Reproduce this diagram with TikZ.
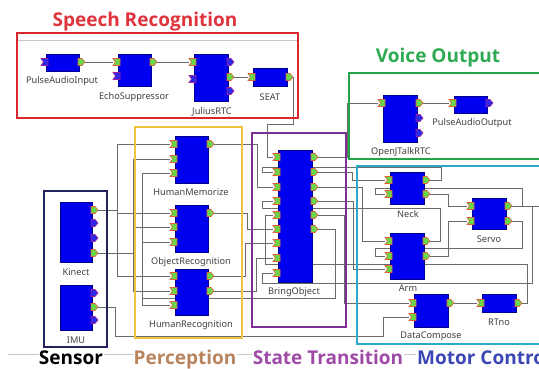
\documentclass[tikz,border=0pt]{standalone}
\usepackage{fontspec}
\setmainfont{Noto Sans}
\newfontfamily\ttlfont{Open Sans}
\pgfdeclarelayer{wires}
\pgfsetlayers{wires,main}

\definecolor{blkblue}{HTML}{0000F0}
\definecolor{portgreen}{HTML}{66D84A}
\definecolor{portedge}{HTML}{E0603A}
\definecolor{offfill}{HTML}{2A2AE8}
\definecolor{offedge}{HTML}{A0209C}
\definecolor{cRed}{HTML}{D8262E}
\definecolor{cGreen}{HTML}{22A54A}
\definecolor{cNavy}{HTML}{22225E}
\definecolor{cYellow}{HTML}{F0C43A}
\definecolor{cPurple}{HTML}{7B2F90}
\definecolor{cCyan}{HTML}{2AAAC6}
\definecolor{tRed}{HTML}{E0343C}
\definecolor{tGreen}{HTML}{2EAA52}
\definecolor{tTan}{HTML}{B8845E}
\definecolor{tPurple}{HTML}{9E4AA6}
\definecolor{tBlue}{HTML}{3A46B4}

\tikzset{
  blk/.style={draw=blue!55!black, fill=blkblue, line width=0.5pt, inner sep=0pt, anchor=north west},
  lbl/.style={font=\fontsize{9.2}{10}\selectfont, text=black!75, inner sep=0pt},
  wire/.style={draw=black!58, line width=0.8pt},
  pon/.style={fill=portgreen, draw=portedge, line width=0.6pt},
  poff/.style={fill=offfill, draw=offedge, line width=0.6pt},
  grp/.style={line width=1.7pt},
  ttl/.style={font=\ttlfont\bfseries\fontsize{19}{22}\selectfont, inner sep=1pt, anchor=base},
  faint/.style={draw=black!22, line width=0.6pt}
}

% component block: name, x, y, width, height
\newcommand\rtc[5]{\node[blk, minimum width=#4pt, minimum height=#5pt] (#1) at (#2,#3) {};}
% input port: [style] name, x of block edge, y
\newcommand\inport[4][pon]{%
  \path[#1] (#3-5,#4-3.5) -- (#3+2,#4-3.5) -- (#3+2,#4+3.5) -- (#3-5,#4+3.5) -- (#3-2.5,#4) -- cycle;
  \coordinate (#2) at (#3-5,#4);}
% output port: [style] name, x of block edge, y
\newcommand\outport[4][pon]{%
  \path[#1] (#3-1,#4-3.5) -- (#3+3,#4-3.5) -- (#3+6,#4) -- (#3+3,#4+3.5) -- (#3-1,#4+3.5) -- cycle;
  \coordinate (#2) at (#3+6,#4);}

\begin{document}
\begin{tikzpicture}[x=1pt,y=-1pt]
\useasboundingbox (0,0) rectangle (539,369);
\clip (0,0) rectangle (539,369);

% window frame lines
\draw[faint] (17,40) -- (298,40);
\draw[faint] (8,354) -- (539,354);

% ---------- Speech recognition ----------
\rtc{pai}{46}{54}{33}{17}
\inport[poff]{pai-i1}{46}{62} \outport{pai-o1}{79}{62}
\node[lbl] at (62,81) {PulseAudioInput};

\rtc{es}{118}{54}{33}{32}
\inport{es-i1}{118}{62} \inport[poff]{es-i2}{118}{76} \outport{es-o1}{151}{62}
\node[lbl] at (134,97) {EchoSuppressor};

\rtc{jr}{194}{54}{34}{47}
\inport{jr-i1}{194}{62} \inport[poff]{jr-i2}{194}{79}
\outport[poff]{jr-o1}{228}{62} \outport{jr-o2}{228}{77} \outport[poff]{jr-o3}{228}{91}
\node[lbl] at (212,112) {JuliusRTC};

\rtc{seat}{253}{68}{34}{18}
\inport{seat-i1}{253}{77} \outport{seat-o1}{287}{77}
\node[lbl] at (270,97) {SEAT};

% ---------- Voice output ----------
\rtc{ojt}{383}{95}{34}{47}
\inport{ojt-i1}{383}{103}
\outport{ojt-o1}{417}{103} \outport[poff]{ojt-o2}{417}{118} \outport[poff]{ojt-o3}{417}{133}
\node[lbl] at (401,152) {OpenJTalkRTC};

\rtc{pao}{454}{96}{33}{17}
\inport{pao-i1}{454}{103} \outport[poff]{pao-o1}{487}{103}
\node[lbl] at (472,123) {PulseAudioOutput};

% ---------- Sensor ----------
\rtc{kin}{60}{202}{32}{60}
\outport{kin-o1}{92}{210} \outport[poff]{kin-o2}{92}{223}
\outport[poff]{kin-o3}{92}{238} \outport{kin-o4}{92}{253}
\node[lbl] at (76,272) {Kinect};

\rtc{imu}{60}{285}{32}{45}
\outport[poff]{imu-o1}{92}{293} \outport{imu-o2}{92}{307} \outport[poff]{imu-o3}{92}{320}
\node[lbl] at (76,340) {IMU};

% ---------- Perception ----------
\rtc{hm}{175}{136}{33}{47}
\inport{hm-i1}{175}{144} \inport{hm-i2}{175}{159} \inport{hm-i3}{175}{173}
\outport{hm-o1}{208}{144}
\node[lbl] at (191,192) {HumanMemorize};

\rtc{or}{175}{205}{33}{47}
\inport{or-i1}{175}{213} \inport{or-i2}{175}{227} \inport{or-i3}{175}{242}
\outport{or-o1}{208}{213}
\node[lbl] at (191,262) {ObjectRecognition};

\rtc{hr}{175}{269}{33}{46}
\inport{hr-i1}{175}{276} \inport{hr-i2}{175}{291} \inport{hr-i3}{175}{305}
\outport{hr-o1}{208}{276} \outport{hr-o2}{208}{291}
\node[lbl] at (191,325) {HumanRecognition};

% ---------- State transition ----------
\rtc{bo}{278}{150}{34}{132}
\foreach \k/\y in {1/157,2/172,3/187,4/201,5/215,6/229,7/243,8/258,9/273}
  {\inport{bo-i\k}{278}{\y}}
\foreach \k/\y in {1/157,2/172,3/187,4/201,5/215,6/229}
  {\outport{bo-o\k}{312}{\y}}
\node[lbl] at (294,292) {BringObject};

% ---------- Motor control ----------
\rtc{neck}{390}{172}{34}{32}
\inport{neck-i1}{390}{180} \inport{neck-i2}{390}{194}
\outport{neck-o1}{424}{180} \outport{neck-o2}{424}{194}
\node[lbl] at (408,214) {Neck};

\rtc{servo}{472}{198}{34}{31}
\inport{servo-i1}{472}{206} \inport{servo-i2}{472}{221}
\outport{servo-o1}{506}{206} \outport{servo-o2}{506}{221}
\node[lbl] at (489,239) {Servo};

\rtc{arm}{390}{233}{34}{46}
\inport{arm-i1}{390}{241} \inport{arm-i2}{390}{256} \inport{arm-i3}{390}{269}
\outport{arm-o1}{424}{241} \outport{arm-o2}{424}{256}
\node[lbl] at (408,288) {Arm};

\rtc{dc}{414}{294}{34}{33}
\inport{dc-i1}{414}{303} \inport{dc-i2}{414}{317}
\outport{dc-o1}{448}{303}
\node[lbl] at (431,336) {DataCompose};

\rtc{rtno}{482}{294}{34}{18}
\inport{rtno-i1}{482}{303} \outport{rtno-o1}{516}{303}
\node[lbl] at (499,322) {RTno};

% ---------- connectors ----------
\begin{pgfonlayer}{wires}
\draw[wire] (pai-o1) -- (es-i1);
\draw[wire] (es-o1) -- (jr-i1);
\draw[wire] (jr-o2) -- (seat-i1);
\draw[wire] (seat-o1) -| (293,124) -| (267,157) -- (bo-i1);
\draw[wire] (ojt-o1) -- (pao-i1);
\draw[wire] (bo-o1) -| (347,103) -- (ojt-i1);
% Kinect streams to the recognisers
\draw[wire] (kin-o1) -- (117,210);
\draw[wire] (hm-i1) -| (117,276) -- (hr-i1);
\draw[wire] (or-i1) -- (117,213);
\draw[wire] (kin-o4) -- (133,253);
\draw[wire] (hm-i2) -| (133,291) -- (hr-i2);
\draw[wire] (or-i2) -- (133,227);
% commands from the state machine to the recognisers
\draw[wire] (bo-o6) -| (335,298) -| (142,173) -- (hm-i3);
\draw[wire] (142,298) |- (hr-i3);
\draw[wire] (or-i3) -- (142,242);
% recognition results
\draw[wire] (hm-o1) -| (257,187) -- (bo-i3);
\draw[wire] (or-o1) -| (247,229) -- (bo-i6);
\draw[wire] (hr-o1) -| (245,243) -- (bo-i7);
\draw[wire] (hr-o2) -| (256,258) -- (bo-i8);
% motor side
\draw[wire] (neck-o1) -| (441,167) -| (262,172) -- (bo-i2);
\draw[wire] (bo-o2) -| (352,180) -- (neck-i1);
\draw[wire] (servo-o1) -- (539,206);
\draw[wire] (522,206) |- (375,188) |- (neck-i2);
\draw[wire] (532,206) |- (262,283) |- (bo-i9);
\draw[wire] (neck-o2) -| (448,206) -- (servo-i1);
\draw[wire] (arm-o2) -| (448,221) -- (servo-i2);
\draw[wire] (arm-o1) -| (440,208) -| (262,201) -- (bo-i4);
\draw[wire] (servo-o2) -| (522,248) -| (375,256) -- (arm-i2);
\draw[wire] (bo-o3) -| (362,241) -- (arm-i1);
\draw[wire] (bo-o4) -| (353,269) -- (arm-i3);
\draw[wire] (bo-o5) -| (344,303) -- (dc-i1);
\draw[wire] (rtno-o1) -| (527,264) -| (265,215) -- (bo-i5);
\draw[wire] (dc-o1) -- (rtno-i1);
\draw[wire] (imu-o2) -| (115,336) -| (383,317) -- (dc-i2);
\end{pgfonlayer}

% ---------- groups ----------
\draw[grp, cRed]    (17,33)  rectangle (298,118);
\draw[grp, cGreen]  (349,73) rectangle (545,159);
\draw[grp, cNavy]   (44,191) rectangle (107,347);
\draw[grp, cYellow] (135,127) rectangle (242,338);
\draw[grp, cPurple] (252,133) rectangle (346,327);
\draw[grp, cCyan]   (357,166) rectangle (545,344);

\node[ttl, text=tRed]    (tsr) at (145,27)  {Speech Recognition};
\node[ttl, text=tGreen]  (tvo) at (438,63)  {Voice Output};
\node[ttl, text=black, fill=white]   (tse) at (71,364)  {Sensor};
\node[ttl, text=tTan, fill=white]    (tpe) at (185,364) {Perception};
\node[ttl, text=tPurple, fill=white] (tst) at (328,364) {State Transition};
\node[ttl, text=tBlue, fill=white, anchor=base west] (tmc) at (416,364) {Motor Control};
\end{tikzpicture}
\end{document}
